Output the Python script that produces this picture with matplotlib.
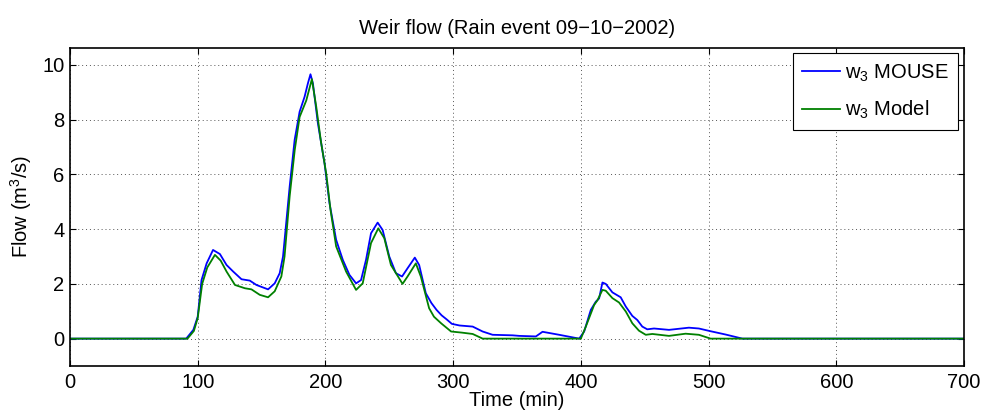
import numpy as np
import matplotlib.pyplot as plt

plt.rcParams['font.family'] = ['Liberation Sans', 'DejaVu Sans']
plt.rcParams['mathtext.fontset'] = 'custom'
plt.rcParams['mathtext.rm'] = 'Liberation Sans'
plt.rcParams['mathtext.it'] = 'Liberation Sans'

# Weir flow w3
t_mouse = [0, 91, 96.6, 100, 103, 107, 112, 117.4, 122.6, 127.8, 134.3, 140.8, 146, 155.1,
           160.3, 164.2, 166.8, 172, 175.9, 179.8, 183.7, 186.3, 188.3, 190.2, 194.1, 199.3,
           203.2, 208.4, 213.6, 218.8, 224, 227.9, 231.8, 235.7, 240.9, 244.8, 250, 255.2,
           260, 264.3, 270, 273.4, 278.6, 283, 287, 291, 295, 299, 305, 315.3, 323.1, 330.9,
           346.6, 351.8, 364.8, 370, 383, 398.7, 402.6, 407.8, 411.7, 414.3, 416.9, 419.5,
           424.7, 431.2, 435.2, 440.3, 444.2, 448.1, 452, 457.3, 469, 484.6, 492.4, 501.6,
           513.3, 526.5, 700]
q_mouse = [0, 0, 0.32, 0.8, 2.14, 2.75, 3.24, 3.09, 2.69, 2.45, 2.17, 2.12, 1.96, 1.80,
           2.02, 2.39, 3.0, 5.55, 7.26, 8.29, 8.84, 9.33, 9.66, 9.33, 7.87, 6.41,
           4.95, 3.61, 2.88, 2.33, 2.02, 2.14, 2.88, 3.85, 4.24, 3.97, 3.0, 2.39,
           2.27, 2.57, 2.96, 2.69, 1.66, 1.3, 1.05, 0.85, 0.7, 0.54, 0.48, 0.44, 0.26, 0.14,
           0.12, 0.1, 0.08, 0.25, 0.14, 0.0, 0.26, 1.05, 1.35, 1.47, 2.05, 2.0,
           1.69, 1.51, 1.17, 0.83, 0.68, 0.44, 0.34, 0.37, 0.32, 0.4, 0.37, 0.27,
           0.15, 0.0, 0.0]

t_model = [0, 92, 97, 100, 103.5, 107.5, 113.5, 118, 122.6, 129.2, 137, 142.1, 148.6, 155.1,
           160.3, 165.5, 168, 172, 176, 179.8, 185, 189.4, 192.8, 196.5, 200.6, 204, 208.4,
           216.2, 224, 229.2, 235.7, 241.4, 246.1, 251.3, 260.4, 264.3, 270.8, 274.7, 281.2,
           285, 290.6, 298.4, 306.7, 315.3, 323.1, 400, 403.9, 410.4, 413, 416.9, 419.5,
           424.7, 429.9, 435.2, 440.3, 445.5, 450.8, 456, 469, 482, 492.4, 501.6, 700]
q_model = [0, 0, 0.28, 0.75, 2.0, 2.6, 3.06, 2.85, 2.45, 1.96, 1.84, 1.80, 1.60, 1.51,
           1.73, 2.27, 3.0, 5.2, 6.9, 8.1, 8.7, 9.48, 8.48, 7.2, 6.04, 4.7, 3.37,
           2.45, 1.78, 2.02, 3.49, 4.03, 3.67, 2.69, 2.0, 2.27, 2.75, 2.27, 1.11,
           0.8, 0.56, 0.26, 0.22, 0.17, 0.0, 0.0, 0.44, 1.23, 1.4, 1.78, 1.75,
           1.48, 1.32, 0.99, 0.56, 0.29, 0.14, 0.17, 0.1, 0.18, 0.14, 0.0, 0.0]

x_ticks = [0, 100, 200, 300, 400, 500, 600, 700]
y_ticks = [0, 2, 4, 6, 8, 10]

fig = plt.figure(figsize=(9.87, 4.2), dpi=100)
ax = fig.add_axes([0.0709, 0.1286, 0.9058, 0.7578])

ax.plot(t_mouse, q_mouse, color=(0, 0, 1), lw=1.3, label='w$_3$ MOUSE')
ax.plot(t_model, q_model, color=(0, 0.5, 0), lw=1.3, label='w$_3$ Model')

ax.set_xlim(0, 700)
ax.set_ylim(-1, 10.63)
ax.set_xticks(x_ticks)
ax.set_yticks(y_ticks)
ax.tick_params(direction='in', top=True, right=True, labelsize=14.5, length=4, width=0.8)
ax.tick_params(axis='x', pad=5)
ax.tick_params(axis='y', pad=4)
ax.grid(True, linestyle=(0, (1, 3)), color='#555555', lw=0.7)
for s in ax.spines.values():
    s.set_linewidth(1.2)

ax.set_xlabel('Time (min)', fontsize=14.5, labelpad=-1)
ax.set_ylabel('Flow (m$^3$/s)', fontsize=14.5, labelpad=6)
ax.set_title('Weir flow (Rain event 09\u221210\u22122002)', fontsize=14.5, pad=10)

leg = ax.legend(loc='upper right', bbox_to_anchor=(0.993, 0.982), fontsize=14.5,
                fancybox=False, framealpha=1, edgecolor='black', handlelength=1.9,
                borderaxespad=0, handletextpad=0.25, borderpad=0.45, labelspacing=0.75)
leg.get_frame().set_linewidth(0.8)

fig.savefig('out.png', dpi=100)
